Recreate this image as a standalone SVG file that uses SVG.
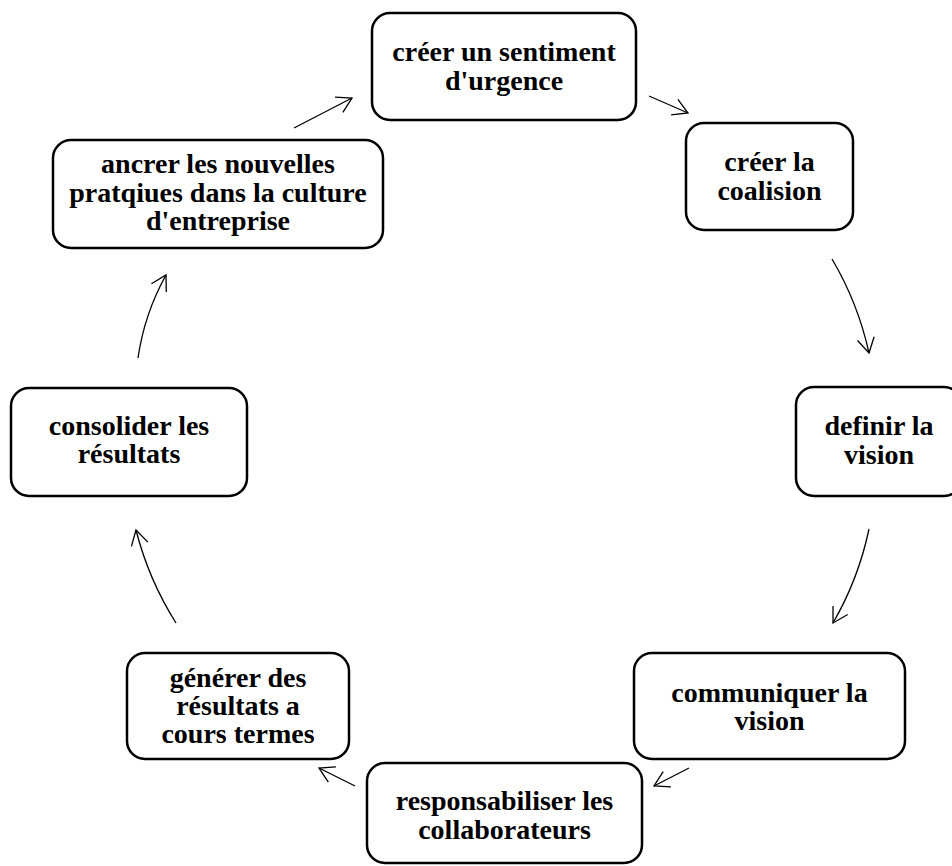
<svg xmlns="http://www.w3.org/2000/svg" width="952" height="866" viewBox="0 0 952 866">
  <style>
    .box { fill: #ffffff; stroke: #000000; stroke-width: 2.5; }
    .lbl { font-family: 'Liberation Serif', serif; font-weight: bold; font-size: 28px; fill: #000000; text-anchor: middle; }
    .edge { fill: none; stroke: #000000; stroke-width: 1.3; marker-end: url(#open); }
  </style>
  <defs>
    <!-- open V arrowhead, 30 degree arms -->
    <marker id="open" markerUnits="userSpaceOnUse" markerWidth="40" markerHeight="40" refX="0" refY="0" viewBox="-20 -20 40 40" orient="auto" overflow="visible">
      <path d="M-14.7,-8.5 L0,0 L-14.7,8.5" fill="none" stroke="#000000" stroke-width="1.3"/>
    </marker>
  </defs>
  <rect width="952" height="866" fill="#ffffff"/>

  <g id="connectors">
    <path class="edge" d="M294,128 L352,98"/>
    <path class="edge" d="M649,96 L688,113"/>
    <path class="edge" d="M832,259 Q858,303 869,353"/>
    <path class="edge" d="M869,529 Q858.5,579 833,623"/>
    <path class="edge" d="M689,768 L654,786"/>
    <path class="edge" d="M355,786 L319,768"/>
    <path class="edge" d="M176,623 Q148.7,579.7 136,530"/>
    <path class="edge" d="M138,358 Q144.4,313.9 166,275"/>
  </g>

  <g id="n1">
    <rect class="box" x="372" y="13" width="264" height="107" rx="18"/>
    <text class="lbl" x="504" y="61">créer un sentiment</text>
    <text class="lbl" x="504" y="90">d'urgence</text>
  </g>
  <g id="n2">
    <rect class="box" x="686" y="123" width="167" height="107" rx="18"/>
    <text class="lbl" x="769.5" y="171">créer la</text>
    <text class="lbl" x="769.5" y="199.5">coalision</text>
  </g>
  <g id="n3">
    <rect class="box" x="796" y="387" width="166" height="109" rx="18"/>
    <text class="lbl" x="879" y="435">definir la</text>
    <text class="lbl" x="879" y="464">vision</text>
  </g>
  <g id="n4">
    <rect class="box" x="634" y="653" width="271" height="106" rx="18"/>
    <text class="lbl" x="769.5" y="702">communiquer la</text>
    <text class="lbl" x="769.5" y="730">vision</text>
  </g>
  <g id="n5">
    <rect class="box" x="367" y="763" width="275" height="100" rx="18"/>
    <text class="lbl" x="504.5" y="810">responsabiliser les</text>
    <text class="lbl" x="504.5" y="839">collaborateurs</text>
  </g>
  <g id="n6">
    <rect class="box" x="127" y="653" width="222" height="106" rx="18"/>
    <text class="lbl" x="238" y="687">générer des</text>
    <text class="lbl" x="238" y="715">résultats a</text>
    <text class="lbl" x="238" y="743">cours termes</text>
  </g>
  <g id="n7">
    <rect class="box" x="11" y="388" width="236" height="108" rx="18"/>
    <text class="lbl" x="129" y="435">consolider les</text>
    <text class="lbl" x="129" y="463">résultats</text>
  </g>
  <g id="n8">
    <rect class="box" x="53" y="140" width="330" height="108" rx="18"/>
    <text class="lbl" x="218" y="173">ancrer les nouvelles</text>
    <text class="lbl" x="218" y="202">pratqiues dans la culture</text>
    <text class="lbl" x="218" y="230">d'entreprise</text>
  </g>
</svg>
